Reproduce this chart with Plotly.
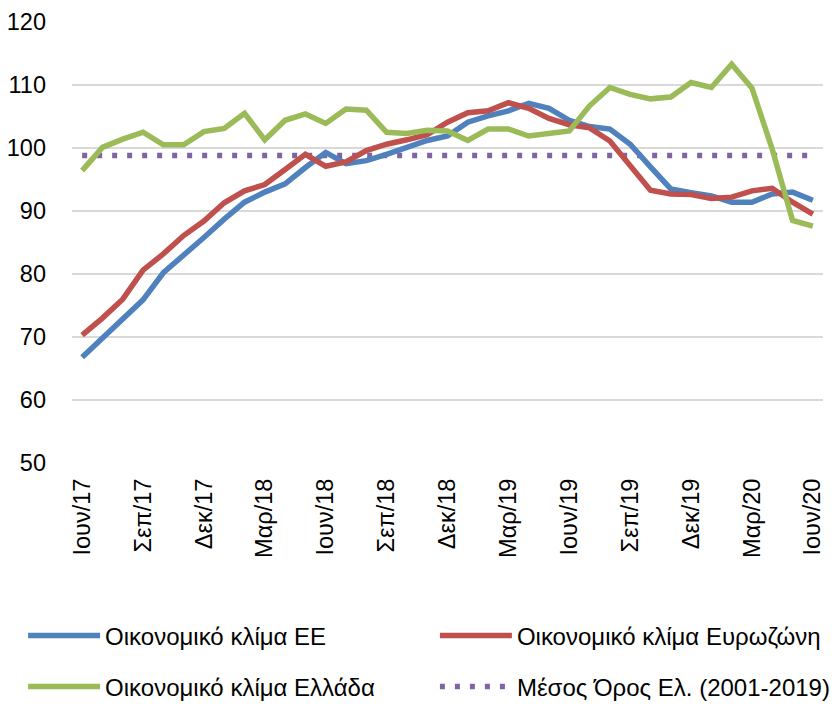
import plotly.graph_objects as go

months = [
    "Ιουν/17", "Ιουλ/17", "Αυγ/17", "Σεπ/17", "Οκτ/17", "Νοε/17", "Δεκ/17",
    "Ιαν/18", "Φεβ/18", "Μαρ/18", "Απρ/18", "Μαϊ/18", "Ιουν/18", "Ιουλ/18",
    "Αυγ/18", "Σεπ/18", "Οκτ/18", "Νοε/18", "Δεκ/18", "Ιαν/19", "Φεβ/19",
    "Μαρ/19", "Απρ/19", "Μαϊ/19", "Ιουν/19", "Ιουλ/19", "Αυγ/19", "Σεπ/19",
    "Οκτ/19", "Νοε/19", "Δεκ/19", "Ιαν/20", "Φεβ/20", "Μαρ/20", "Απρ/20",
    "Μαϊ/20", "Ιουν/20",
]

tick_labels = ["Ιουν/17", "Σεπ/17", "Δεκ/17", "Μαρ/18", "Ιουν/18", "Σεπ/18",
               "Δεκ/18", "Μαρ/19", "Ιουν/19", "Σεπ/19", "Δεκ/19", "Μαρ/20", "Ιουν/20"]

climate_eu = [
    66.8, 69.9, 72.8, 75.9, 80.2, 82.9, 85.8, 88.7, 91.4, 93.0, 94.3, 96.9,
    99.3, 97.5, 98.0, 99.0, 100.1, 101.2, 101.9, 104.1, 105.1, 105.9, 107.1,
    106.3, 104.4, 103.4, 103.0, 100.6, 97.0, 93.5, 92.9, 92.4, 91.4, 91.4,
    92.7, 93.0, 91.7,
]

climate_eurozone = [
    70.3, 73.0, 76.0, 80.6, 83.2, 86.1, 88.4, 91.3, 93.2, 94.2, 96.6, 99.0,
    97.1, 97.8, 99.6, 100.6, 101.3, 102.1, 104.1, 105.6, 105.9, 107.2, 106.3,
    104.7, 103.7, 103.2, 101.1, 97.2, 93.3, 92.7, 92.6, 92.0, 92.2, 93.2,
    93.6, 91.4, 89.5,
]

climate_greece = [
    96.4, 100.1, 101.4, 102.5, 100.5, 100.5, 102.6, 103.1, 105.5, 101.3, 104.4,
    105.4, 103.9, 106.2, 106.0, 102.5, 102.3, 102.8, 102.7, 101.2, 103.0, 103.0,
    101.9, 102.3, 102.7, 106.7, 109.6, 108.5, 107.8, 108.1, 110.4, 109.6, 113.3,
    109.5, 99.8, 88.5, 87.6,
]

greece_average = [98.8] * len(months)

FONT = "Liberation Sans"

fig = go.Figure()
fig.add_trace(go.Scatter(x=months, y=greece_average, mode="lines",
                         name="Μέσος Όρος Ελ. (2001-2019)",
                         line=dict(color="#8064A2", width=5.5, dash="5px,10px"),
                         legend="legend4"))
fig.add_trace(go.Scatter(x=months, y=climate_eu, mode="lines",
                         name="Οικονομικό κλίμα ΕΕ",
                         line=dict(color="#4F81BD", width=5.5), legend="legend"))
fig.add_trace(go.Scatter(x=months, y=climate_eurozone, mode="lines",
                         name="Οικονομικό κλίμα Ευρωζώνη",
                         line=dict(color="#C0504D", width=5.5), legend="legend2"))
fig.add_trace(go.Scatter(x=months, y=climate_greece, mode="lines",
                         name="Οικονομικό κλίμα Ελλάδα",
                         line=dict(color="#9BBB59", width=5.5), legend="legend3"))


def legend_box(x, y):
    return dict(
        orientation="h", xref="container", yref="container",
        x=x, y=y, xanchor="left", yanchor="middle",
        font=dict(family=FONT, size=24, color="#000000"),
        itemwidth=72, bgcolor="rgba(0,0,0,0)",
    )


fig.update_layout(
    width=837, height=707,
    margin=dict(l=72, r=14, t=22, b=244, autoexpand=False),
    paper_bgcolor="white", plot_bgcolor="white",
    font=dict(family=FONT, size=23.5, color="#000000"),
    showlegend=True,
    legend=legend_box(0.0276, 1 - 636 / 707),
    legend2=legend_box(0.5196, 1 - 636 / 707),
    legend3=legend_box(0.0276, 1 - 687 / 707),
    legend4=legend_box(0.5196, 1 - 687 / 707),
    xaxis=dict(
        type="category", range=[-0.5, len(months) - 0.5],
        tickmode="array", tickvals=tick_labels, ticktext=tick_labels,
        tickangle=-90, showgrid=False, showline=False, zeroline=False,
        ticks="", ticklabelstandoff=10, automargin=False,
        tickfont=dict(family=FONT, size=23.5, color="#000000"),
    ),
    yaxis=dict(
        range=[50, 120], dtick=10, tick0=50,
        showgrid=True, gridcolor="#D9D9D9", gridwidth=1.5,
        showline=False, zeroline=False, ticks="", ticklabelstandoff=25,
        automargin=False,
        tickfont=dict(family=FONT, size=23.5, color="#000000"),
    ),
)

fig.write_html("out.html", config={"displayModeBar": False},
               post_script="document.body.style.margin='0';")
